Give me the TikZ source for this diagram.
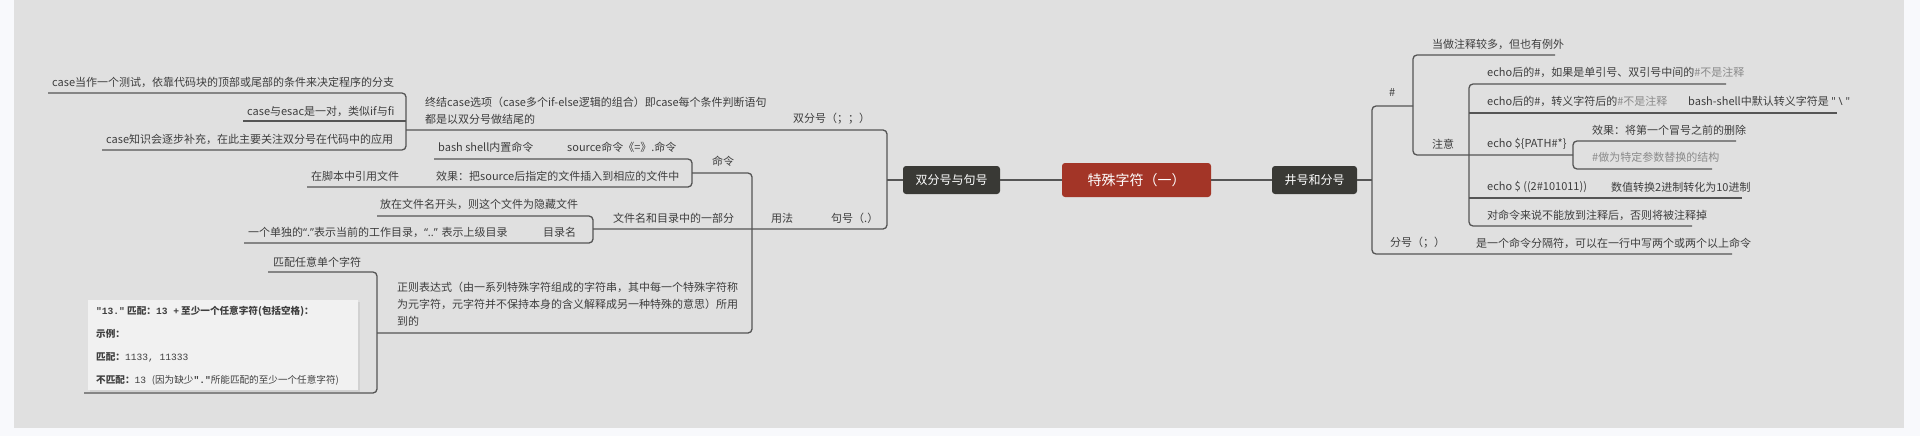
\documentclass[tikz,border=0pt]{standalone}
\usepackage{fontspec}
\setmainfont{Noto Sans CJK SC}
\newfontfamily\monof{Liberation Mono}
\newfontfamily\latf{Noto Sans}
\definecolor{bgout}{HTML}{F8F9FC}
\definecolor{bgin}{HTML}{E0E0E0}
\definecolor{tx}{HTML}{3E3E3E}
\definecolor{lgray}{HTML}{8A8A8A}
\definecolor{ln}{HTML}{555555}
\definecolor{dark}{HTML}{393935}
\definecolor{redc}{HTML}{A33527}
\definecolor{boxf}{HTML}{F1F1F1}
\begin{document}
\begin{tikzpicture}[x=1pt,y=-1pt,
  t/.style={anchor=west,inner sep=0pt,text=tx,font=\fontsize{11}{17}\selectfont,align=left},
  tb/.style={anchor=west,inner sep=0pt,text=tx,font=\fontsize{9.6}{11}\selectfont},
  mainbox/.style={fill=dark,text=white,rounded corners=3pt,inner sep=0pt,minimum width=#1,minimum height=28pt,font=\fontsize{12}{14}\selectfont},
  br/.style={draw=ln,line width=1.3pt,rounded corners=4pt},
  ed/.style={draw=ln,line width=1.3pt}]
\useasboundingbox (0,0) rectangle (1920,436);
\fill[bgout] (0,0) rectangle (1920,436);
\fill[bgin] (14,0) rectangle (1904,428);

% central and main nodes
\node[fill=redc,text=white,rounded corners=3pt,inner sep=0pt,minimum width=149pt,minimum height=34pt,font=\fontsize{14}{16}\selectfont] (C) at (1136.5,180) {特殊字符（一）};
\node[mainbox=97pt] (L) at (951.5,180) {双分号与句号};
\node[mainbox=85pt] (R) at (1314.5,180) {井号和分号};
\draw[ed] (L) -- (C);
\draw[ed] (C) -- (R);

% ---------- left side lines ----------
\coordinate (lj) at (887,180);
\draw[ed] (L.west) -- (lj);
\draw[br] (406,130) -- (887,130) -- (887,229) -- (593,229);
\draw[br] (48,93) -- (406,93) -- (406,150) -- (102,150);
\draw[ed] (243,121) -- (406,121);
\draw[br] (434,159) -- (692,159) -- (692,187) -- (307,187);
\draw[br] (692,173) -- (752,173) -- (752,333) -- (377,333);
\draw[br] (377,216) -- (593,216) -- (593,243) -- (244,243);
\draw[br] (268,272) -- (377,272) -- (377,393) -- (84,393);

% ---------- left side texts ----------
\node[t] (a1) at (52,82) {case当作一个测试，依靠代码块的顶部或尾部的条件来决定程序的分支};
\node[t] (a2) at (247,111) {case与esac是一对，类似if与fi};
\node[t] (a3) at (106,139) {case知识会逐步补充，在此主要关注双分号在代码中的应用};
\node[t] (a4) at (425,110.5) {终结case选项（case多个if-else逻辑的组合）即case每个条件判断语句\\都是以双分号做结尾的};
\node[t] (a5) at (793,119) {双分号（；；）};
\node[t] (b1) at (438,147) {bash shell内置命令};
\node[t] (b2) at (567,147) {source命令《=》.命令};
\node[t] (b3) at (436,176) {效果：把source后指定的文件插入到相应的文件中};
\node[t] (b4) at (311,176) {在脚本中引用文件};
\node[t] (b5) at (712,161) {命令};
\node[t] (c1) at (380,204) {放在文件名开头，则这个文件为隐藏文件};
\node[t] (c2) at (248,232) {一个单独的{\latf“.”}表示当前的工作目录，{\latf“..” }表示上级目录};
\node[t] (c3) at (543,232) {目录名};
\node[t] (c4) at (613,218) {文件名和目录中的一部分};
\node[t] (c5) at (771,218) {用法};
\node[t] (c6) at (831,218) {句号（.）};
\node[t] (d1) at (273,262) {匹配任意单个字符};
\node[t] (d2) at (397,304.5) {正则表达式（由一系列特殊字符组成的字符串，其中每一个特殊字符称\\为元字符，元字符并不保持本身的含义解释成另一种特殊的意思）所用\\到的};

% image box
\fill[black!18] (90,302) rectangle (360,392);
\fill[boxf] (88,300) rectangle (358,390);
\node[tb] (e1) at (96,311) {\textbf{{\monof\bfseries "13."} 匹配：{\monof\bfseries 13 +} 至少一个任意字符(包括空格)：}};
\node[tb] (e2) at (96,334) {\textbf{示例：}};
\node[tb] (e3) at (96,357) {\textbf{匹配：}{\monof 1133, 11333}};
\node[tb] (e4) at (96,380) {\textbf{不匹配：}{\monof 13 }(因为缺少{\monof\bfseries "."}所能匹配的至少一个任意字符)};

% ---------- right side lines ----------
\coordinate (rj) at (1372,180);
\draw[ed] (R.east) -- (rj);
\draw[br] (1413,106) -- (1372,106) -- (1372,254) -- (1732,254);
\draw[br] (1555,55) -- (1413,55) -- (1413,155) -- (1573,155);
\draw[br] (1726,84) -- (1469,84) -- (1469,226) -- (1692,226);
\draw[ed] (1469,113) -- (1837,113);
\draw[ed] (1469,198) -- (1742,198);
\draw[br] (1736,141) -- (1573,141) -- (1573,169) -- (1712,169);

% ---------- right side texts ----------
\node[t] (f1) at (1389,93) {\#};
\node[t] (f2) at (1432,44) {当做注释较多，但也有例外};
\node[t] (f3) at (1432,144) {注意};
\node[t] (g1) at (1487,72) {echo后的\#，如果是单引号、双引号中间的{\color{lgray}\#不是注释}};
\node[t] (g2) at (1487,101) {echo后的\#，转义字符后的{\color{lgray}\#不是注释}};
\node[t] (g3) at (1688,101) {bash-shell中默认转义字符是 {\latf" \textbackslash{} "}};
\node[t] (g4) at (1487,144) {echo \$\{PATH\#*\}};
\node[t] (g5) at (1592,130) {效果：将第一个冒号之前的删除};
\node[t,text=lgray] (g6) at (1592,157) {\#做为特定参数替换的结构};
\node[t] (g7) at (1487,187) {echo \$ ((2\#101011))};
\node[t] (g8) at (1611,187) {数值转换2进制转化为10进制};
\node[t] (g9) at (1487,215) {对命令来说不能放到注释后，否则将被注释掉};
\node[t] (h1) at (1390,243) {分号（；）};
\node[t] (h2) at (1476,243) {是一个命令分隔符，可以在一行中写两个或两个以上命令};
\end{tikzpicture}
\end{document}
